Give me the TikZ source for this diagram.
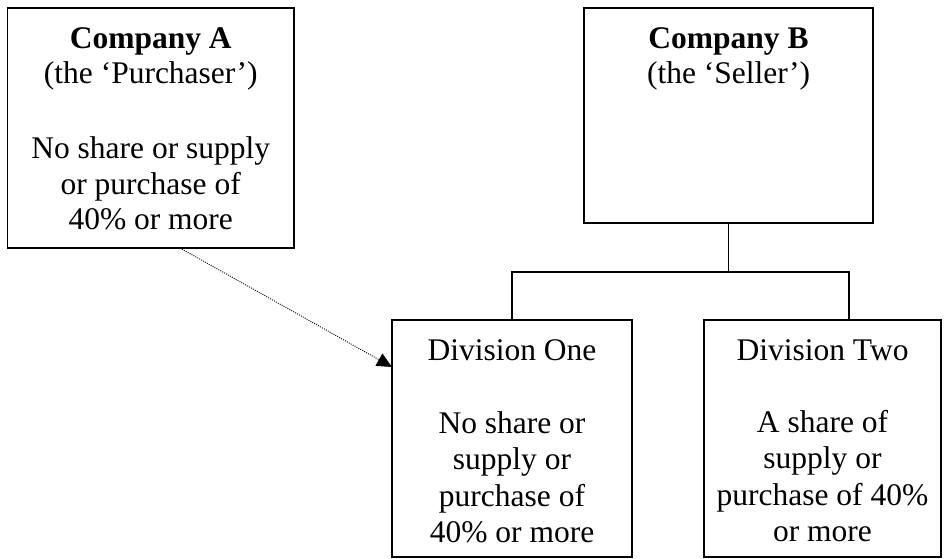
\documentclass[tikz,border=0pt]{standalone}
\usepackage{fontspec}
\setmainfont{Liberation Serif}
\usetikzlibrary{arrows.meta}
\newcommand\mystack[1]{\begin{tabular}[t]{@{}c@{}}#1\end{tabular}}
\tikzset{
  box/.style={draw, line width=1.6pt, inner sep=0pt, rectangle},
  txt/.style={inner sep=0pt, anchor=base, font=\fontsize{31.5}{35}\selectfont},
  txtA/.style={inner sep=0pt, anchor=base, font=\fontsize{31.5}{35.5}\selectfont},
  txtD/.style={inner sep=0pt, anchor=base, font=\fontsize{31.5}{36.6}\selectfont},
  conn/.style={line width=1.3pt},
  dotline/.style={line width=0.9pt, dash pattern=on 1pt off 1.2pt, -{Triangle[length=15pt,width=14pt]}}
}
\begin{document}
\begin{tikzpicture}[x=1pt,y=1pt]
\useasboundingbox (0,0) rectangle (951,-559);
% boxes
\node[box, minimum width=286.5pt, minimum height=240pt] (A) at (150.75,-128) {};
\node[box, minimum width=289pt, minimum height=215pt] (B) at (728.5,-115.5) {};
\node[box, minimum width=240pt, minimum height=237pt] (D1) at (512,-438.5) {};
\node[box, minimum width=237pt, minimum height=237pt] (D2) at (822.5,-438.5) {};
% texts
\node[txt] (Atitle) at (150.75,-49) {\mystack{\textbf{Company A}\\(the ‘Purchaser’)}};
\node[txtA] (Abody) at (150.75,-159) {\mystack{No share or supply\\or purchase of\\40\% or more}};
\node[txt] (Btitle) at (728.5,-49) {\mystack{\textbf{Company B}\\(the ‘Seller’)}};
\node[txt] (D1title) at (512,-360) {Division One};
\node[txtD] (D1body) at (512,-433) {\mystack{No share or\\supply or\\purchase of\\40\% or more}};
\node[txt] (D2title) at (822.5,-360) {Division Two};
\node[txtD] (D2body) at (822.5,-432) {\mystack{A share of\\supply or\\purchase of 40\%\\or more}};
% tree connectors
\coordinate (bus) at (728.5,-272);
\coordinate (d2in) at (849,-320);
\draw[conn] (B.south) -- (bus);
\draw[conn] (D1.north) -- (D1.north |- bus) -- (bus -| d2in) -- (d2in);
% dotted arrow
\coordinate (aout) at (180,-248);
\coordinate (din) at (392,-367);
\draw[dotline] (aout) -- (din);
\end{tikzpicture}
\end{document}
